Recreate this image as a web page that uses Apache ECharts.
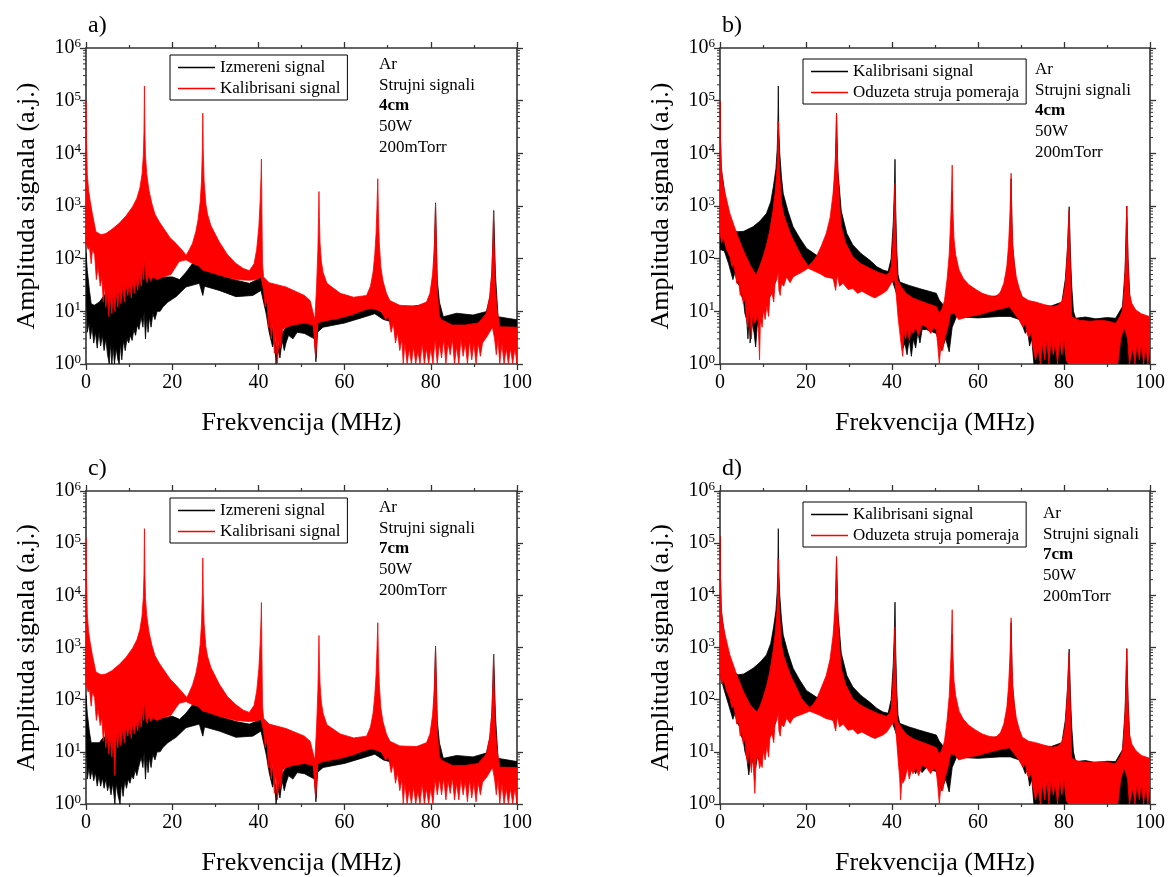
<!DOCTYPE html>
<html><head><meta charset="utf-8">
<script src="https://cdn.jsdelivr.net/npm/echarts@6/dist/echarts.min.js"></script>
<style>html,body{margin:0;padding:0;background:#fff}#c{width:1168px;height:877px}</style>
</head><body><div id="c"></div>
<script>
const xTicks = [0, 20, 40, 60, 80, 100];
const yExps = [0, 1, 2, 3, 4, 5, 6];
const panelLabels = ['a)', 'b)', 'c)', 'd)'];
const legendAC = ['Izmereni signal', 'Kalibrisani signal'];
const legendBD = ['Kalibrisani signal', 'Oduzeta struja pomeraja'];
const notes4 = ['Ar', 'Strujni signali', '4cm', '50W', '200mTorr'];
const notes7 = ['Ar', 'Strujni signali', '7cm', '50W', '200mTorr'];

// ---------- panel a (4cm): black = Izmereni, red = Kalibrisani ----------
const aBlackUpper = [[0,130],[0.3,60],[0.8,25],[1.2,14],[1.9,13],[2.5,14],[3.1,15],[3.8,18],[4.6,22],[5,30],[5.4,20],[6.2,25],[6.8,35],[7.2,25],[7.7,29],[8.2,40],[8.6,30],[9.3,34],[9.8,45],[10.2,35],[10.5,40],[11,55],[11.3,42],[11.6,52],[12,65],[12.4,55],[12.8,81],[13.1,70],[13.3,120],[13.45,780],[13.6,150],[14,90],[14.3,81],[14.8,60],[15.5,52],[16.5,47],[17.8,45],[20.1,45],[21.7,40],[23.2,55],[24.7,81],[25.8,75],[26.7,70],[27.0,210],[27.3,90],[27.8,61],[30.9,49],[34.8,39],[37.9,34],[39.4,39],[40.6,45],[41.4,29],[42.2,12],[43.3,4.4],[44.5,1.6],[45.2,3.5],[46.4,5],[48,6],[50.7,6.9],[52.7,6.4],[53.1,4],[53.35,1.3],[53.7,6],[54.5,8],[55.9,7.4],[59,8.5],[62.1,9.9],[64.4,12],[66.3,12.6],[67.5,11],[69,9],[72,9],[76,12.6],[79,13.5],[80.3,25],[80.7,60],[81.1,1150],[81.5,40],[82,15],[82.9,7.9],[86,9.2],[89.8,8.5],[92.9,9.9],[93.8,20],[94.2,60],[94.6,820],[95,50],[95.6,7.9],[100,6.9]];
const aBlackLower = [[0,40],[0.3,4],[0.7,6],[1,3],[1.4,5],[1.8,2.5],[2.2,4],[2.6,2],[3,4],[3.4,2.2],[3.8,3.5],[4.2,1.8],[4.6,3],[5,1.5],[5.4,1],[5.7,2.5],[6,1],[6.3,2.2],[6.6,1],[7,2],[7.4,1.2],[7.7,1],[8,2.5],[8.3,1.2],[8.7,2.8],[9.1,1.8],[9.5,3],[9.9,2.5],[10.3,3.5],[10.7,2.8],[11.1,4.5],[11.5,3.5],[11.9,5.5],[12.3,4.5],[12.8,7.9],[13.2,5],[13.5,10],[13.8,3],[14.1,8],[14.4,4],[14.7,7.9],[15.1,5],[15.5,9],[16,7],[16.5,10],[17.2,10],[17.8,12],[19,15],[20.9,19],[23.2,29],[26.3,34],[27.1,20],[27.5,30],[30.9,25],[34.8,19],[38.7,20],[40.6,25],[41.8,9],[42.5,4],[43.3,2.1],[43.7,3],[44.1,1],[44.5,2],[45,1.3],[45.5,2.8],[46,1.8],[46.4,2.5],[47,3.5],[48,3],[49,4],[50.7,3.8],[53,3],[53.35,1.1],[53.7,4],[55,5],[60,6],[65,8],[67,9],[69,7],[72,6],[76,8],[80,8],[82.5,5.1],[90,5.1],[94,5.5],[95.5,5],[100,4.8]];
const aRedUpper = [[0,100000],[0.1,20000],[0.3,4000],[0.6,2000],[1,1200],[1.5,700],[2.3,325],[3.5,285],[4.6,300],[6,360],[7.7,470],[9.3,650],[10.8,970],[11.8,1400],[12.5,2200],[13,4000],[13.3,9000],[13.45,25000],[13.56,190000],[13.67,25000],[13.8,9000],[14.1,4000],[14.6,2000],[15.3,1100],[16,700],[17,500],[17.8,400],[19.5,250],[20.9,195],[22.8,130],[23.2,115],[24,150],[24.7,195],[25.5,330],[26,550],[26.5,1200],[26.8,3000],[27.0,12000],[27.1,58000],[27.2,12000],[27.4,3000],[27.8,1100],[28.2,700],[29,420],[29.5,350],[30.9,210],[32.8,120],[34.8,81],[36.5,65],[37.9,59],[39,80],[39.6,150],[40.1,400],[40.4,1200],[40.6,3500],[40.7,7800],[40.8,1000],[40.95,80],[41.2,45],[42.5,35],[46.4,29],[50.7,20],[52,16],[53.1,6.9],[53.5,30],[53.8,150],[53.95,600],[54.05,1880],[54.15,600],[54.3,200],[54.6,90],[55,55],[55.9,34],[59,22],[62.1,18.5],[65.1,20],[66,30],[66.6,55],[67,120],[67.3,300],[67.5,900],[67.7,3300],[67.85,700],[68.05,200],[68.4,70],[68.9,38],[69.7,22],[70.5,16],[72.8,13],[76.7,12.6],[79,15],[79.8,22],[80.4,50],[80.8,150],[81,500],[81.1,1100],[81.2,400],[81.4,60],[81.6,20],[82,8],[82.5,6.9],[85,5.5],[88,5.5],[91,6],[92.9,9.2],[93.6,18],[94.1,50],[94.4,180],[94.55,780],[94.7,150],[94.9,40],[95.3,12],[96,5.1],[100,5]];
const aRedLower = [[0,200],[0.5,150],[0.8,170],[1.2,80],[1.5,150],[2,120],[2.4,40],[2.8,70],[3.3,30],[3.7,45],[4,15],[4.3,30],[4.6,12],[5,25],[5.3,8],[5.6,20],[6,9],[6.3,22],[6.7,10],[7,25],[7.4,12],[7.7,28],[8.1,14],[8.5,30],[8.9,15],[9.3,32],[9.7,20],[10.1,35],[10.5,18],[10.8,38],[11.2,22],[11.6,40],[12,25],[12.4,50],[12.8,30],[13.2,70],[13.4,40],[13.6,100],[13.9,45],[14.2,35],[14.5,50],[15,38],[15.5,45],[16.5,40],[17.8,45],[19.7,50],[21.6,88],[23.2,95],[24.7,81],[26,75],[27.1,60],[28,58],[30.9,49],[34.8,40],[37.9,39],[39.5,40],[40.6,45],[41.2,25],[41.6,12],[42,18],[42.3,5],[42.6,9],[43,3],[43.3,6],[43.7,1.6],[44,4],[44.4,1],[44.8,3],[45.2,2],[45.6,4.5],[46.4,5],[48,5.5],[50.7,6],[52.7,5.5],[53.3,1.3],[53.8,6],[55,6.5],[59,7.5],[62,8.8],[64.4,10.5],[66.3,11.5],[68.5,10],[69.5,7],[70.2,8],[70.8,4],[71.3,6],[71.8,2.5],[72.3,4],[72.8,1.8],[73.3,3],[73.6,1],[74,2.5],[74.5,1],[75,2],[75.5,1],[76,2.2],[76.5,1],[77,1.8],[77.5,1],[78,2.5],[78.5,1],[79,2],[79.5,1],[80,2],[80.5,1],[81,3],[81.5,1],[82,2.5],[82.5,1.3],[83,3],[83.5,1],[84,2.5],[84.5,1.5],[85,3],[85.5,1],[86,2.2],[86.5,1],[87,3],[87.5,1.4],[88,2.5],[88.5,1],[89,2.8],[89.5,1.2],[90,2.5],[90.5,1],[91,2.5],[91.5,1.4],[92,2.5],[93,3.3],[94.3,5],[94.8,3],[95.2,1.5],[95.6,3],[96,1],[96.5,2.5],[97,1],[97.5,2],[98,1],[98.5,2],[99,1],[99.5,2],[100,1]];

// ---------- panel b (4cm): black = Kalibrisani, red = Oduzeta ----------
const bBlackUpper = [[0,96000],[0.1,20000],[0.3,5000],[0.8,2700],[1.5,900],[2.5,400],[3.5,330],[4.2,325],[5.5,330],[7.7,405],[9.3,520],[10.8,720],[11.8,1200],[12.4,2300],[13,5000],[13.3,12000],[13.45,30000],[13.56,190000],[13.67,30000],[13.9,10000],[14.3,3500],[14.7,1740],[15.8,800],[17,405],[18.5,250],[20.1,158],[22.4,117],[23.5,110],[25,200],[26.3,1000],[26.8,5000],[27.1,58000],[27.4,5000],[28.2,800],[29.5,300],[30.9,182],[32.8,125],[34.8,94],[36.5,70],[37.9,61],[39.1,57],[39.8,100],[40.3,500],[40.55,2000],[40.7,7700],[40.85,1000],[41.1,150],[41.4,50],[41.8,36],[44,31],[46.4,27],[50.3,22],[51,16.4],[52.2,12.3],[53,10],[53.8,80],[54,1900],[54.2,80],[55.5,34],[59,22],[62,18.5],[65,20],[66.5,39],[67.4,200],[67.7,3300],[68,200],[68.8,39],[70.5,16],[73,13],[77,12.6],[79.5,15],[80.3,40],[80.8,150],[81.2,970],[81.5,120],[81.8,30],[82.2,10],[82.7,7.4],[85,7.8],[87.4,7.2],[90,7.6],[92,7.4],[93.6,12.3],[94.2,60],[94.6,1000],[94.9,100],[95.3,20],[95.8,10],[96,8],[100,7.5]];
const bBlackLower = [[0,150],[1,140],[2,80],[3,40],[3.5,55],[4,35],[4.6,30],[5,20],[5.5,15],[5.8,9],[6.2,7],[6.5,3],[6.8,8],[7,2.5],[7.5,6],[7.9,4],[8.3,2.1],[8.7,6],[9,5],[10,10],[11.6,19],[12.8,34],[13.5,60],[14.5,60],[16,65],[18,62],[20.5,70],[23,80],[25,80],[27,70],[28.6,55],[30.9,45],[34.8,42],[37.9,40],[39.8,45],[41.2,20],[41.8,8],[42.2,5],[42.6,2],[43,2.5],[43.5,1.5],[44,3],[44.5,1.4],[45,3],[45.5,2],[46,4],[46.5,2.5],[47,4.5],[48,4.5],[50.3,3.8],[51.5,1.8],[52.5,3],[53.3,1.7],[54,5],[55,7.9],[60,7.5],[65,8],[67.5,8],[69.6,7],[70.5,5],[71,3.8],[71.5,4.5],[72,2.2],[72.5,3],[73,1],[100,1]];
const bRedUpper = [[0,100000],[0.1,20000],[0.3,6000],[0.6,3000],[1.2,1740],[2.3,720],[3.9,300],[5.4,146],[7,76],[8.4,49],[9.2,70],[10,109],[10.8,180],[11.6,350],[12.3,800],[12.8,1740],[13.2,4500],[13.4,10000],[13.56,40000],[13.7,10000],[13.9,4000],[14.3,1130],[14.8,700],[15.5,470],[16.5,280],[17.8,170],[19,110],[20.5,73],[21.4,85],[22.4,109],[23.5,170],[24.7,300],[25.6,600],[26.3,1740],[26.7,5000],[27.0,15000],[27.1,58000],[27.2,15000],[27.5,3000],[27.9,900],[28.2,405],[29.2,200],[30.9,109],[32.8,80],[34.8,66],[36.8,55],[38.7,49],[39.4,55],[39.8,70],[40.2,200],[40.5,800],[40.7,2700],[40.85,500],[41.05,80],[41.3,39],[42.3,28],[43.3,22],[44.8,18],[46.4,16],[48.3,14],[50.3,12.3],[51,9.2],[51.6,11],[52.2,16],[52.8,40],[53.3,120],[53.7,700],[54,6000],[54.15,900],[54.4,250],[54.8,120],[55.6,61],[56.6,42],[57.9,32],[59.5,26],[61,22],[62.5,20],[64.1,19],[65.2,23],[66,34],[66.7,70],[67.1,180],[67.4,600],[67.7,4200],[67.85,700],[68.1,180],[68.4,90],[68.9,45],[69.6,27],[70.3,19],[71.8,16],[73.4,15],[75.3,13.5],[77.3,12.3],[78.6,13],[79.6,16],[80.2,28],[80.6,70],[80.9,250],[81.2,840],[81.35,200],[81.55,40],[81.8,7.9],[83.5,6.8],[86,6.5],[88.9,6.8],[91,6.3],[92,5.9],[93,8],[93.6,10.6],[94,25],[94.3,90],[94.5,400],[94.6,1000],[94.75,250],[94.95,60],[95.2,22],[95.8,14],[96.7,10.6],[98,9],[100,7.9]];
const bRedLower = [[0,300],[0.4,200],[0.8,260],[1.5,150],[2.3,109],[2.8,70],[3.2,80],[3.9,34],[4.3,40],[4.7,20],[5,28],[5.4,14],[5.8,18],[6.1,8],[6.5,5],[6.8,12],[7,7.9],[7.3,3],[7.6,9],[8,6],[8.4,6.8],[8.8,9],[9.2,1.2],[9.4,7],[9.8,5],[10.1,10.6],[10.5,7],[10.9,13],[11.3,8],[11.6,19],[12.1,22],[12.5,15],[12.8,34],[13.2,40],[13.5,60],[13.7,25],[14,20],[14.3,34],[14.8,30],[15.5,45],[16.3,35],[17,45],[17.8,49],[19,55],[20.5,66],[21.5,60],[23.2,52],[24.5,45],[26.3,42],[26.9,25],[27.3,50],[27.8,30],[28.6,34],[29.8,26],[30.9,27],[32,22],[33,24],[34.8,20],[36,18],[37.9,22],[38.8,25],[39.8,34],[40.6,40],[41,20],[41.4,7.9],[41.8,4],[42.2,2.1],[42.5,1.4],[42.8,4],[43.2,3],[43.6,5],[44,2.8],[44.5,4.5],[44.9,3.8],[45.5,5],[46.2,3.5],[47,5.5],[48,5.1],[49,3.8],[49.7,5],[50.3,4.4],[50.7,2],[51,1],[51.4,2.5],[51.8,1.8],[52.2,2.9],[53,5],[53.6,9],[54.5,9.2],[55.5,7],[56.5,7.4],[58,8],[60,8.5],[62,9.5],[64.1,10.6],[66,11.5],[67.3,12.3],[68.5,9],[69.6,6.8],[70.5,5],[71,6],[71.5,3.5],[71.9,3.3],[72.4,4],[72.8,2],[73.4,1.2],[74,2],[74.5,1],[75,2.5],[75.5,1.2],[76,2.8],[76.5,1],[77,3],[77.5,1.5],[78,2.5],[78.5,1],[79,3],[79.5,1.5],[80,3],[80.5,1.2],[81,1],[92.5,1],[93.2,3],[94,5],[94.8,3],[95.2,1],[96,2],[96.5,1],[97,2.5],[97.5,1.2],[98,2.5],[98.5,1],[99,2.2],[99.5,1],[100,2]];

// ---------- panel c (7cm): black = Izmereni, red = Kalibrisani ----------
const cBlackUpper = [[0,120],[0.3,55],[0.8,24],[1.2,15],[1.9,15],[2.5,15],[3.1,15],[3.8,18],[4.6,20],[5,28],[5.4,19],[6.2,24],[6.8,33],[7.2,24],[7.7,28],[8.2,38],[8.6,29],[9.3,33],[9.8,44],[10.2,34],[10.5,40],[11,54],[11.3,41],[11.6,50],[12,64],[12.4,55],[12.8,100],[13.1,70],[13.3,120],[13.45,760],[13.6,150],[14,90],[14.3,80],[14.8,58],[15.5,50],[16.5,46],[17.8,45],[20.1,48],[21.7,42],[23.2,55],[24.7,80],[25.8,75],[26.7,70],[27.0,190],[27.3,90],[27.8,60],[30.9,48],[34.8,38],[37.9,34],[39.4,38],[40.6,42],[41.4,28],[42.2,12],[43.3,4.4],[44.3,1.6],[45.2,3.5],[46.4,5],[48,6],[50.7,6.9],[52.7,6.4],[53.1,4],[53.35,1.3],[53.7,6],[54.5,8],[55.9,7.4],[59,8.5],[62.1,9.9],[64.4,12],[66.3,12.6],[67.5,11],[69,9],[72,9],[76,12],[79,13.5],[80.3,25],[80.7,60],[81.1,1050],[81.5,40],[82,15],[82.9,7.5],[86,8.5],[89.8,8],[92.9,9.5],[93.8,20],[94.2,60],[94.6,740],[95,50],[95.6,7.5],[100,6.5]];
const cBlackLower = [[0,30],[0.3,3],[0.7,5],[1,3],[1.4,4.5],[1.8,2.8],[2.2,4],[2.6,2.2],[3,3.5],[3.4,2.2],[3.8,3.2],[4.2,2],[4.6,3],[5,1.8],[5.4,2.5],[5.8,1.5],[6.2,2.5],[6.7,1],[7,2.5],[7.4,1.5],[7.9,1],[8.2,2.5],[8.6,1.4],[9,2.8],[9.4,2],[9.8,3],[10.2,2.5],[10.6,3.5],[11,3],[11.4,4.5],[11.8,3.5],[12.2,5],[12.8,7.9],[13.2,5],[13.5,10],[13.8,3],[14.1,8],[14.4,4],[14.7,7.9],[15.1,5],[15.5,9],[16,7],[16.5,10],[17.2,10],[17.8,12],[19,15],[20.9,19],[23.2,29],[26.3,34],[27.1,20],[27.5,30],[30.9,25],[34.8,19],[38.7,20],[40.6,25],[41.8,9],[42.5,4],[43.3,2.1],[43.7,3],[44.1,1],[44.5,2],[45,1.3],[45.5,2.8],[46,1.8],[46.4,2.5],[47,3.5],[48,3],[49,4],[50.7,3.8],[53,3],[53.35,1.1],[53.7,4],[55,5],[60,6],[65,8],[67,9],[69,7],[72,6],[76,8],[80,8],[82.5,5],[90,5],[94,5.3],[95.5,5],[100,4.6]];
const cRedUpper = [[0,130000],[0.1,25000],[0.3,4500],[0.6,2000],[1,1200],[1.5,700],[2.3,340],[3.5,300],[4.6,310],[6,360],[7.7,470],[9.3,650],[10.8,970],[11.8,1400],[12.5,2200],[13,4000],[13.3,9000],[13.45,25000],[13.56,190000],[13.67,25000],[13.8,9000],[14.1,4000],[14.6,2000],[15.3,1100],[16,700],[17,500],[17.8,400],[19.5,250],[20.9,190],[22.8,125],[23.4,110],[24,140],[24.7,190],[25.5,320],[26,530],[26.5,1150],[26.8,2900],[27.0,11000],[27.1,52000],[27.2,11000],[27.4,2900],[27.8,1050],[28.2,680],[29,410],[29.5,340],[30.9,200],[32.8,115],[34.8,80],[36.5,63],[37.9,57],[39,78],[39.6,145],[40.1,390],[40.4,1150],[40.6,3300],[40.7,7300],[40.8,950],[40.95,78],[41.2,44],[42.5,34],[46.4,28],[50.7,20],[52,16],[53.1,6.9],[53.5,30],[53.8,150],[53.95,550],[54.05,1700],[54.15,550],[54.3,200],[54.6,90],[55,55],[55.9,33],[59,22],[62.1,18.5],[65.1,20],[66,30],[66.6,55],[67,120],[67.3,300],[67.5,850],[67.7,3000],[67.85,650],[68.05,200],[68.4,70],[68.9,38],[69.7,22],[70.5,16],[72.8,13],[76.7,12.6],[79,15],[79.8,22],[80.4,50],[80.8,150],[81,480],[81.1,1020],[81.2,380],[81.4,60],[81.6,20],[82,8],[82.5,6.9],[85,5.5],[88,5.5],[91,6],[92.9,9.2],[93.6,18],[94.1,50],[94.4,170],[94.55,720],[94.7,140],[94.9,40],[95.3,12],[96,5.1],[100,5]];
const cRedLower = [[0,200],[0.5,140],[0.8,160],[1.2,75],[1.5,140],[2,110],[2.4,40],[2.8,65],[3.3,32],[3.7,45],[4,16],[4.3,30],[4.6,12],[5,25],[5.3,9],[5.6,20],[6,8],[6.3,18],[6.7,3.5],[7,22],[7.4,12],[7.7,26],[8.1,13],[8.5,28],[8.9,15],[9.3,30],[9.7,20],[10.1,33],[10.5,18],[10.8,36],[11.2,22],[11.6,38],[12,25],[12.4,48],[12.8,30],[13.2,70],[13.4,40],[13.6,100],[13.9,45],[14.2,35],[14.5,50],[15,38],[15.5,45],[16.5,40],[17.8,45],[19.7,50],[21.6,85],[23.2,92],[24.7,80],[26,75],[27.1,60],[28,58],[30.9,48],[34.8,40],[37.9,38],[39.5,39],[40.6,42],[41.2,25],[41.6,12],[42,18],[42.3,5],[42.6,9],[43,3],[43.3,6],[43.7,1.6],[44,4],[44.4,1.2],[44.8,3],[45.2,2],[45.6,4.5],[46.4,5],[48,5.5],[50.7,6],[52.7,5.5],[53.3,1.3],[53.8,6],[55,6.5],[59,7.5],[62,8.8],[64.4,10.5],[66.3,11.5],[68.5,10],[69.5,7],[70.2,8],[70.8,4],[71.3,6],[71.8,2.5],[72.3,4],[72.8,1.8],[73.3,3],[73.6,1],[74,2.5],[74.5,1],[75,2],[75.5,1],[76,2.2],[76.5,1],[77,1.8],[77.5,1],[78,2.5],[78.5,1],[79,2],[79.5,1],[80,2],[80.5,1],[81,3],[81.5,1.5],[82,3],[82.5,1.5],[83,3.2],[83.5,1.2],[84,2.8],[84.5,1.6],[85,3.2],[85.5,1.2],[86,2.5],[86.5,1.2],[87,3],[87.5,1.5],[88,2.8],[88.5,1.1],[89,3],[89.5,1.3],[90,2.6],[90.5,1.1],[91,2.6],[91.5,1.5],[92,2.6],[93,3.3],[94.3,5],[94.8,3],[95.2,1.5],[95.6,3],[96,1],[96.5,2.5],[97,1],[97.5,2],[98,1],[98.5,2],[99,1],[99.5,2],[100,1]];

// ---------- panel d (7cm): black = Kalibrisani, red = Oduzeta ----------
const dBlackUpper = [[0,135000],[0.1,25000],[0.3,5000],[0.8,2500],[1.5,900],[2.5,400],[3.5,320],[4.2,300],[5.5,310],[7.7,400],[9.3,520],[10.8,720],[11.8,1200],[12.4,2300],[13,5000],[13.3,12000],[13.45,30000],[13.56,190000],[13.67,30000],[13.9,10000],[14.3,3500],[14.7,1740],[15.8,800],[17,400],[18.5,240],[20.1,150],[22.4,112],[23.5,105],[25,190],[26.3,1000],[26.8,5000],[27.1,55000],[27.4,5000],[28.2,780],[29.5,290],[30.9,175],[32.8,120],[34.8,90],[36.5,68],[37.9,58],[39.1,55],[39.8,100],[40.3,500],[40.55,2000],[40.7,7400],[40.85,1000],[41.1,150],[41.4,50],[41.8,35],[44,30],[46.4,26],[50.3,21],[51,16],[52.2,12],[53,10],[53.8,80],[54,1800],[54.2,80],[55.5,33],[59,22],[62,18],[65,20],[66.5,38],[67.4,200],[67.7,3000],[68,200],[68.8,38],[70.5,16],[73,13],[77,12.6],[79.5,15],[80.3,40],[80.8,150],[81.2,930],[81.5,120],[81.8,30],[82.2,10],[82.7,6.5],[85,6.8],[87.4,6.2],[90,6.6],[92,6.5],[93.6,11],[94.2,60],[94.6,950],[94.9,100],[95.3,18],[95.8,9],[96,7],[100,6.5]];
const dBlackLower = [[0,300],[1,150],[2,80],[3,42],[3.5,55],[4,36],[4.6,30],[5,20],[5.5,15],[5.8,10],[6.2,8],[6.7,3.6],[7.2,8],[7.7,6],[8.3,5],[8.7,8],[9,7],[10,10],[11.6,19],[12.8,34],[13.5,60],[14.5,60],[16,62],[18,60],[20.5,68],[23,78],[25,78],[27,68],[28.6,54],[30.9,44],[34.8,40],[37.9,38],[39.8,42],[41.2,20],[41.8,4.5],[42.3,6],[43,3.5],[43.5,5],[44,4.5],[44.5,6],[45.5,3.8],[46.2,5.5],[47,4],[48,5],[49,4.5],[50.3,4.2],[51.5,1.8],[52.5,3],[53.3,1.7],[54,5],[55,7.9],[60,7.5],[65,8],[67.5,8],[69.6,7],[70.5,5],[71,3.8],[71.5,4.5],[72,2.2],[72.5,3],[73,1],[100,1]];
const dRedUpper = [[0,135000],[0.1,25000],[0.3,6000],[0.6,3000],[1.2,1740],[2.3,720],[3.9,300],[5.4,146],[7,80],[8.6,58],[9.3,75],[10,109],[10.8,180],[11.6,350],[12.3,800],[12.8,1740],[13.2,4500],[13.4,10000],[13.56,50000],[13.7,10000],[13.9,4000],[14.3,1130],[14.8,700],[15.5,470],[16.5,280],[17.8,170],[19,105],[20.8,70],[21.6,80],[22.4,100],[23.5,165],[24.7,290],[25.6,600],[26.3,1740],[26.7,5000],[27.0,15000],[27.1,55000],[27.2,15000],[27.5,3000],[27.9,880],[28.2,400],[29.2,195],[30.9,105],[32.8,78],[34.8,64],[36.8,54],[38.7,48],[39.4,54],[39.8,68],[40.2,200],[40.5,750],[40.7,2500],[40.85,480],[41.05,80],[41.3,38],[42.3,28],[43.3,22],[44.8,18],[46.4,16],[48.3,14],[50.3,12],[51,9],[51.6,11],[52.2,16],[52.8,40],[53.3,115],[53.7,650],[54,5300],[54.15,850],[54.4,240],[54.8,120],[55.6,60],[56.6,42],[57.9,32],[59.5,26],[61,22],[62.5,20],[64.1,19],[65.2,23],[66,34],[66.7,70],[67.1,180],[67.4,580],[67.7,3700],[67.85,650],[68.1,180],[68.4,90],[68.9,45],[69.6,27],[70.3,19],[71.8,16],[73.4,15],[75.3,13.5],[77.3,12.3],[78.6,13],[79.6,16],[80.2,28],[80.6,70],[80.9,240],[81.2,800],[81.35,190],[81.55,40],[81.8,7.5],[83.5,6.5],[86,6.3],[88.9,6.5],[91,6.1],[92,5.9],[93,8],[93.6,10.6],[94,25],[94.3,90],[94.5,380],[94.6,950],[94.75,240],[94.95,60],[95.2,22],[95.8,14],[96.7,10.6],[98,8.5],[100,7.5]];
const dRedLower = [[0,300],[0.4,200],[0.8,250],[1.5,150],[2.3,105],[2.8,70],[3.2,78],[3.9,34],[4.3,40],[4.7,20],[5,28],[5.4,14],[5.8,18],[6.1,8],[6.5,6],[6.8,12],[7,7.9],[7.3,4],[7.6,9],[8.1,1.6],[8.4,6.8],[8.8,9],[9.2,4.8],[9.5,6],[9.8,5],[10.1,10.6],[10.5,7],[10.9,13],[11.3,8],[11.6,19],[12.1,22],[12.5,15],[12.8,34],[13.2,40],[13.5,60],[13.7,25],[14,20],[14.3,34],[14.8,30],[15.5,44],[16.3,35],[17,44],[17.8,48],[19,52],[20.8,60],[21.8,56],[23.2,50],[24.5,44],[26.3,40],[26.9,25],[27.3,48],[27.8,30],[28.6,34],[29.8,26],[30.9,27],[32,22],[33,24],[34.8,20],[36,18],[37.9,21],[38.8,24],[39.8,32],[40.6,38],[41,20],[41.4,7.5],[41.8,3],[42,1.2],[42.3,3],[42.5,2.5],[43,3],[43.6,5],[44,3],[44.5,4.5],[44.9,3.8],[45.5,5],[46.2,3.5],[47,5.5],[48,5],[49,3.8],[49.7,5],[50.3,4.2],[50.7,2],[51,1],[51.4,2.5],[51.8,1.8],[52.2,2.9],[53,5],[53.6,9],[54.5,9],[55.5,7],[56.5,7.4],[58,8],[60,8.5],[62,9.5],[64.1,10.6],[66,11.5],[67.3,12],[68.5,9],[69.6,6.8],[70.5,5],[71,6],[71.5,3.5],[71.9,3.3],[72.4,4],[72.8,2],[73.4,1.2],[74,2],[74.5,1],[75,2.5],[75.5,1.2],[76,2.8],[76.5,1],[77,3],[77.5,1.5],[78,2.5],[78.5,1],[79,3],[79.5,1.5],[80,3],[80.5,1.2],[81,1],[92.5,1],[93.2,3],[94,5],[94.8,3],[95.2,1],[96,2],[96.5,1],[97,2.5],[97.5,1.2],[98,2.5],[98.5,1],[99,2.2],[99.5,1],[100,2]];

// ---------- layout ----------
const FONT = 'Liberation Serif';
const AX = '#333';
const grids = [
  {left: 86, top: 48, width: 431, height: 316},
  {left: 720, top: 48, width: 431, height: 316},
  {left: 86, top: 491, width: 431, height: 316},
  {left: 720, top: 491, width: 431, height: 316}
];
const panelData = [
  {names: legendAC, black: [aBlackUpper, aBlackLower], red: [aRedUpper, aRedLower], notes: notes4, legendPos: [170, 55], notePos: [379, 56]},
  {names: legendBD, black: [bBlackUpper, bBlackLower], red: [bRedUpper, bRedLower], notes: notes4, legendPos: [803, 59], notePos: [1035, 61]},
  {names: legendAC, black: [cBlackUpper, cBlackLower], red: [cRedUpper, cRedLower], notes: notes7, legendPos: [170, 498], notePos: [379, 499]},
  {names: legendBD, black: [dBlackUpper, dBlackLower], red: [dRedUpper, dRedLower], notes: notes7, legendPos: [803, 502], notePos: [1043, 505]}
];

function bandSeries(name, gi, upper, lower, color, z) {
  return {
    type: 'custom', name: name, xAxisIndex: gi * 2, yAxisIndex: gi * 2,
    clip: true, silent: true, z: z, itemStyle: {color: color},
    data: [[0, 1]],
    renderItem: function (params, api) {
      const pts = upper.map(p => api.coord(p)).concat(lower.slice().reverse().map(p => api.coord(p)));
      return {type: 'polygon', shape: {points: pts}, style: {fill: color, stroke: color, lineWidth: 0.8}};
    }
  };
}
function minorTickSeries(gi) {
  return {
    type: 'custom', xAxisIndex: gi * 2, yAxisIndex: gi * 2, clip: false, silent: true, z: 10,
    data: [[0, 1]],
    renderItem: function (params, api) {
      const children = [];
      const xl = api.coord([0, 1])[0], xr = api.coord([100, 1])[0];
      for (let k = yExps[0]; k < yExps[yExps.length - 1]; k++) {
        for (let m = 2; m < 10; m++) {
          const y = api.coord([0, m * Math.pow(10, k)])[1];
          children.push({type: 'line', shape: {x1: xl - 3, y1: y, x2: xl, y2: y}, style: {stroke: AX, lineWidth: 1}});
          children.push({type: 'line', shape: {x1: xr, y1: y, x2: xr + 3, y2: y}, style: {stroke: AX, lineWidth: 1}});
        }
      }
      return {type: 'group', children: children};
    }
  };
}

const xAxis = [], yAxis = [], series = [], legend = [], graphic = [];
grids.forEach((g, gi) => {
  const axisLine = {show: true, onZero: false, lineStyle: {color: AX, width: 1.6}};
  xAxis.push({
    gridIndex: gi, type: 'value', position: 'bottom', min: xTicks[0], max: xTicks[xTicks.length - 1], interval: xTicks[1] - xTicks[0],
    axisLine: axisLine, axisTick: {show: true, length: 6, lineStyle: {color: AX, width: 1.3}},
    minorTick: {show: true, splitNumber: 2, length: 3, lineStyle: {color: AX, width: 1.2}},
    splitLine: {show: false},
    axisLabel: {fontFamily: FONT, fontSize: 20, color: '#000', margin: 9},
    name: 'Frekvencija (MHz)', nameLocation: 'middle', nameGap: 46,
    nameTextStyle: {fontFamily: FONT, fontSize: 26, color: '#000'}
  });
  xAxis.push({
    gridIndex: gi, type: 'value', position: 'top', min: xTicks[0], max: xTicks[xTicks.length - 1], interval: xTicks[1] - xTicks[0],
    axisLine: axisLine, axisTick: {show: true, length: 6, lineStyle: {color: AX, width: 1.3}},
    minorTick: {show: true, splitNumber: 2, length: 3, lineStyle: {color: AX, width: 1.2}},
    splitLine: {show: false}, axisLabel: {show: false}
  });
  yAxis.push({
    gridIndex: gi, type: 'log', logBase: 10, position: 'left', min: Math.pow(10, yExps[0]), max: Math.pow(10, yExps[yExps.length - 1]), splitNumber: 6,
    axisLine: axisLine, axisTick: {show: true, length: 6, lineStyle: {color: AX, width: 1.3}},
    splitLine: {show: false},
    axisLabel: {
      margin: 5, color: '#000',
      formatter: v => '{b|10}{s|' + Math.round(Math.log10(v)) + '}',
      rich: {
        b: {fontFamily: FONT, fontSize: 20, color: '#000', lineHeight: 22},
        s: {fontFamily: FONT, fontSize: 13, color: '#000', verticalAlign: 'top', lineHeight: 22, padding: [0, 0, 9, 0]}
      }
    },
    name: 'Amplituda signala (a.j.)', nameLocation: 'middle', nameGap: 46,
    nameTextStyle: {fontFamily: FONT, fontSize: 26, color: '#000'}
  });
  yAxis.push({
    gridIndex: gi, type: 'log', logBase: 10, position: 'right', min: Math.pow(10, yExps[0]), max: Math.pow(10, yExps[yExps.length - 1]), splitNumber: 6,
    axisLine: axisLine, axisTick: {show: true, length: 6, lineStyle: {color: AX, width: 1.3}},
    splitLine: {show: false}, axisLabel: {show: false}
  });
  const pd = panelData[gi];
  const tag = panelLabels[gi] + '|';
  series.push(bandSeries(tag + pd.names[0], gi, pd.black[0], pd.black[1], '#000000', 2));
  series.push(bandSeries(tag + pd.names[1], gi, pd.red[0], pd.red[1], '#ff0000', 3));
  series.push(minorTickSeries(gi));
  legend.push({
    left: pd.legendPos[0], top: pd.legendPos[1], orient: 'vertical',
    data: [tag + pd.names[0], tag + pd.names[1]],
    formatter: n => n.split('|')[1],
    icon: 'rect', itemWidth: 37, itemHeight: 1.5, itemGap: 4,
    padding: [4, 7, 3, 8], borderColor: '#000', borderWidth: 1, borderRadius: 0,
    selectedMode: false,
    textStyle: {fontFamily: FONT, fontSize: 17, color: '#000', lineHeight: 17}
  });
  graphic.push({
    type: 'text', left: g.left + 2, top: g.top - 34,
    style: {text: panelLabels[gi], font: '24px "Liberation Serif"', fill: '#000'}
  });
  pd.notes.forEach((t, i) => {
    graphic.push({
      type: 'text', left: pd.notePos[0], top: pd.notePos[1] + i * 20.7,
      style: {text: t, font: (t.indexOf('cm') >= 0 ? 'bold ' : '') + '17px "Liberation Serif"', fill: '#000'}
    });
  });
});

const chart = echarts.init(document.getElementById('c'), null, {renderer: 'canvas'});
chart.setOption({
  animation: false,
  backgroundColor: '#fff',
  grid: grids,
  xAxis: xAxis, yAxis: yAxis, series: series, legend: legend, graphic: graphic
});
</script></body></html>
